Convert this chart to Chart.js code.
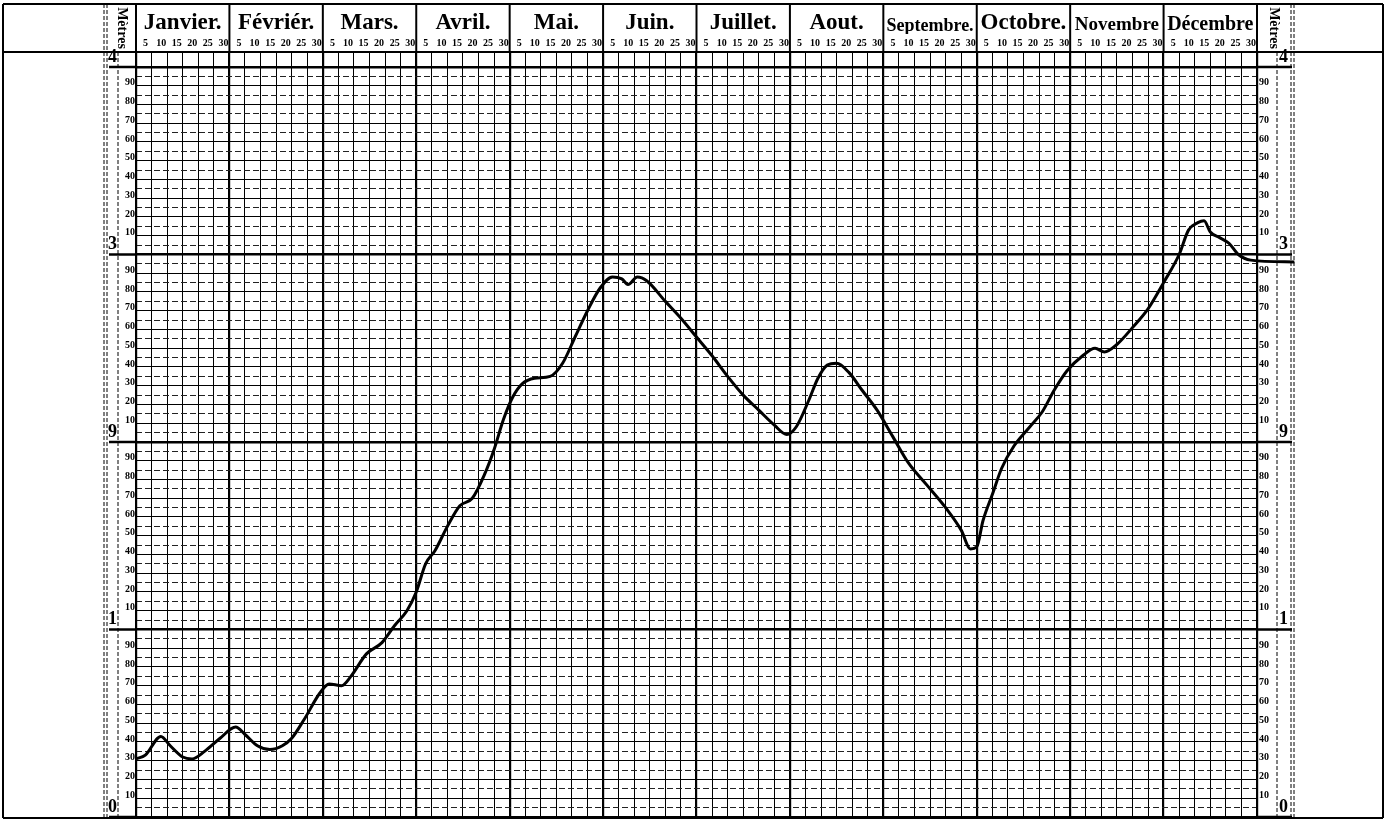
<!DOCTYPE html>
<html lang="fr">
<head>
<meta charset="utf-8">
<title>Hauteurs des eaux</title>
<script src="https://cdn.jsdelivr.net/npm/chart.js@4.4.1/dist/chart.umd.min.js"></script>
<style>
  html, body { margin: 0; padding: 0; background: #fff; }
  canvas { display: block; }
</style>
</head>
<body>
<canvas id="chart" width="1391" height="820"></canvas>
<script>
// En-tête : mois et jours (mois de 30 jours)
const MONTHS = ['Janvier.', 'Févriér.', 'Mars.', 'Avril.', 'Mai.', 'Juin.', 'Juillet.', 'Aout.', 'Septembre.', 'Octobre.', 'Novembre', 'Décembre'];
const DAY_STEPS = [5, 10, 15, 20, 25, 30];

// Echelle des mètres (chiffres tels qu'imprimés) et des centimètres
const METRE_LABELS = ['0', '1', '9', '3', '4'];
const CM_LABELS = ['', '10', '20', '30', '40', '50', '60', '70', '80', '90'];

// Relevé : jour de l'année et hauteur de l'eau en mètres
const days = [0, 3, 8, 11, 15, 18, 22, 27, 32, 35, 39, 43, 47, 50, 54, 59, 62, 66, 69, 74,
    79, 83, 87, 90, 93, 96, 100, 104, 108, 112, 115, 118, 121, 124, 128, 133, 137, 141, 145, 149,
    153, 156, 158, 161, 164, 170, 175, 180, 185, 190, 195, 200, 205, 209, 212, 216, 219, 222, 225, 229,
    233, 238, 243, 248, 254, 260, 265, 268, 270, 272, 275, 278, 282, 287, 291, 295, 299, 304, 308, 311,
    315, 320, 325, 330, 335, 338, 341, 343, 345, 348, 351, 354, 358, 372];
const levels = [0.31, 0.33, 0.43, 0.38, 0.32, 0.31, 0.35, 0.42, 0.48, 0.44, 0.38, 0.36, 0.38, 0.42, 0.52, 0.66, 0.71, 0.70, 0.75, 0.87,
    0.93, 1.02, 1.10, 1.20, 1.35, 1.42, 1.55, 1.66, 1.70, 1.83, 1.96, 2.12, 2.24, 2.31, 2.34, 2.35, 2.42, 2.56, 2.70, 2.82,
    2.88, 2.87, 2.84, 2.88, 2.86, 2.75, 2.66, 2.56, 2.46, 2.35, 2.25, 2.17, 2.09, 2.04, 2.08, 2.22, 2.34, 2.41, 2.42, 2.37,
    2.28, 2.17, 2.03, 1.89, 1.77, 1.65, 1.53, 1.43, 1.44, 1.58, 1.72, 1.86, 1.98, 2.08, 2.16, 2.28, 2.38, 2.46, 2.50, 2.48,
    2.52, 2.61, 2.71, 2.85, 3.00, 3.13, 3.17, 3.18, 3.12, 3.09, 3.06, 3.00, 2.97, 2.96];

const SERIF = '"Liberation Serif", "DejaVu Serif", serif';
const Y_MAX = 4.08;

// Graduations
const dayTicks = [0];
MONTHS.forEach((m, i) => DAY_STEPS.forEach(d => dayTicks.push(i * 30 + d)));
const monthTicks = MONTHS.map((m, i) => i * 30 + 15);
const metreTicks = METRE_LABELS.map((l, i) => i);
const tenthTicks = [];
const halfTicks = [];
for (let m = 0; m < METRE_LABELS.length - 1; m++) {
    CM_LABELS.forEach((l, j) => {
        tenthTicks.push(m + j / 10);
        halfTicks.push(m + j / 10 + 0.05);
    });
}
tenthTicks.push(METRE_LABELS.length - 1);

const setTicks = values => scale => { scale.ticks = values.map(v => ({ value: v })); };
const fixed = (prop, size) => scale => {
    scale[prop] = size;
    scale.paddingTop = scale.paddingBottom = scale.paddingLeft = scale.paddingRight = 0;
};
const cmLabel = v => {
    const r = Math.round(v * 10);
    return r % 10 === 0 ? '' : CM_LABELS[r % 10];
};
const isMetre = v => Math.abs(v - Math.round(v)) < 1e-6;

// Taille des noms de mois pour tenir dans leur case
const measure = document.createElement('canvas').getContext('2d');
function monthFont(label) {
    let size = 23;
    measure.font = `bold ${size}px ${SERIF}`;
    while (size > 14 && measure.measureText(label).width > 88) {
        size--;
        measure.font = `bold ${size}px ${SERIF}`;
    }
    return { family: SERIF, size: size, weight: 'bold', lineHeight: 1 };
}

// Cadre de la feuille, colonnes des mètres, mot "Mètres"
const sheetFrame = {
    id: 'sheetFrame',
    afterDraw(chart) {
        const { ctx, chartArea: a, scales } = chart;
        const top = 4, bottom = a.bottom + 1, outerL = 3, outerR = 1383;
        const line = (x1, y1, x2, y2, w, dash) => {
            ctx.save();
            ctx.strokeStyle = '#000';
            ctx.lineWidth = w;
            ctx.setLineDash(dash || []);
            ctx.beginPath();
            ctx.moveTo(x1, y1);
            ctx.lineTo(x2, y2);
            ctx.stroke();
            ctx.restore();
        };
        line(outerL, top, outerR, top, 2);
        line(outerL, a.top, outerR, a.top, 2);
        line(outerL, bottom, outerR, bottom, 2);
        line(outerL, top, outerL, bottom, 2);
        line(outerR, top, outerR, bottom, 2);

        // séparations des mois dans l'en-tête
        MONTHS.concat(['']).forEach((m, i) => {
            const x = scales.x.getPixelForValue(i * 30);
            line(x, top, x, a.top, 2);
        });

        // colonnes de gauche et de droite
        const lb = scales.yBig.left, rb = scales.yRBig.right;
        line(lb, top, lb, bottom, 1, [4, 2]);
        line(lb + 3, top, lb + 3, bottom, 1, [4, 2]);
        line(scales.yBig.right, a.top, scales.yBig.right, bottom, 1, [4, 2]);
        line(a.left, top, a.left, a.top, 1.5);
        line(a.right, top, a.right, a.top, 1.5);
        line(scales.yR.right, a.top, scales.yR.right, bottom, 1, [4, 2]);
        line(rb - 3, top, rb - 3, bottom, 1, [4, 2]);
        line(rb, top, rb, bottom, 1, [4, 2]);

        // traits des mètres prolongés dans les colonnes
        metreTicks.forEach(v => {
            const y = scales.y.getPixelForValue(v);
            line(lb + 5, y, a.left, y, 2.5);
            line(a.right, y, rb - 2, y, 2.5);
        });

        // "Mètres" vertical
        ctx.save();
        ctx.fillStyle = '#000';
        ctx.font = `bold 14px ${SERIF}`;
        ctx.textAlign = 'center';
        ctx.textBaseline = 'middle';
        [(lb + 3 + a.left) / 2, (a.right + rb - 3) / 2].forEach(x => {
            ctx.save();
            ctx.translate(x, (top + a.top) / 2);
            ctx.rotate(Math.PI / 2);
            ctx.fillText('Mètres', 0, 0);
            ctx.restore();
        });
        ctx.restore();
    }
};

const tickFont = { family: SERIF, size: 10, weight: 'bold' };
const bigFont = { family: SERIF, size: 18, weight: 'bold' };

new Chart(document.getElementById('chart'), {
    type: 'line',
    data: {
        datasets: [{
            data: days.map((d, i) => ({ x: d, y: levels[i] })),
            borderColor: '#000',
            borderWidth: 3,
            pointRadius: 0,
            cubicInterpolationMode: 'monotone',
            clip: false
        }]
    },
    options: {
        responsive: false,
        animation: false,
        devicePixelRatio: 1,
        layout: { padding: { left: 104, right: 97, top: 4, bottom: 3 } },
        plugins: { legend: { display: false }, tooltip: { enabled: false } },
        scales: {
            x: {
                type: 'linear', position: 'top', weight: 0, min: 0, max: 360,
                afterBuildTicks: setTicks(dayTicks),
                afterFit: fixed('height', 18),
                ticks: {
                    autoSkip: false, maxRotation: 0, padding: 3, labelOffset: -6,
                    font: { family: SERIF, size: 10, weight: 'bold' }, color: '#000',
                    callback: v => (v === 0 ? '' : String(v % 30 || 30))
                },
                grid: {
                    color: '#000', drawTicks: false,
                    lineWidth: c => (c.tick && c.tick.value % 30 === 0 ? 2.2 : 1)
                },
                border: { display: true, color: '#000', width: 2 }
            },
            xM: {
                type: 'linear', position: 'top', weight: 1, min: 0, max: 360,
                afterBuildTicks: setTicks(monthTicks),
                afterFit: fixed('height', 30),
                ticks: {
                    autoSkip: false, maxRotation: 0, padding: -1, color: '#000',
                    font: c => monthFont(MONTHS[c.index] || ''),
                    callback: (v, i) => MONTHS[i]
                },
                grid: { display: false, drawTicks: false },
                border: { display: false }
            },
            y: {
                type: 'linear', position: 'left', weight: 0, min: 0, max: Y_MAX,
                afterBuildTicks: setTicks(tenthTicks),
                afterFit: fixed('width', 18),
                ticks: { autoSkip: false, padding: 1, labelOffset: -3, font: tickFont, color: '#000', callback: cmLabel },
                grid: {
                    color: '#000', drawTicks: false,
                    lineWidth: c => (c.tick && isMetre(c.tick.value) ? 2.6 : 1.1)
                },
                border: { display: true, color: '#000', width: 2 }
            },
            yHalf: {
                type: 'linear', position: 'left', weight: -1, min: 0, max: Y_MAX,
                afterBuildTicks: setTicks(halfTicks),
                afterFit: fixed('width', 0),
                ticks: { display: false },
                grid: { color: '#222', lineWidth: 1, drawTicks: false },
                border: { display: false, dash: [6, 3] }
            },
            yBig: {
                type: 'linear', position: 'left', weight: 1, min: 0, max: Y_MAX,
                afterBuildTicks: setTicks(metreTicks),
                afterFit: fixed('width', 14),
                ticks: { autoSkip: false, padding: 1, labelOffset: -10, font: bigFont, color: '#000', callback: v => METRE_LABELS[v] },
                grid: { display: false, drawTicks: false },
                border: { display: false }
            },
            yR: {
                type: 'linear', position: 'right', weight: 0, min: 0, max: Y_MAX,
                afterBuildTicks: setTicks(tenthTicks),
                afterFit: fixed('width', 20),
                ticks: { autoSkip: false, padding: 2, labelOffset: -3, font: tickFont, color: '#000', callback: cmLabel },
                grid: { display: false, drawTicks: false },
                border: { display: true, color: '#000', width: 2 }
            },
            yRBig: {
                type: 'linear', position: 'right', weight: 1, min: 0, max: Y_MAX,
                afterBuildTicks: setTicks(metreTicks),
                afterFit: fixed('width', 17),
                ticks: { autoSkip: false, padding: 2, labelOffset: -10, font: bigFont, color: '#000', callback: v => METRE_LABELS[v] },
                grid: { display: false, drawTicks: false },
                border: { display: false }
            }
        }
    },
    plugins: [sheetFrame]
});
</script>
</body>
</html>
